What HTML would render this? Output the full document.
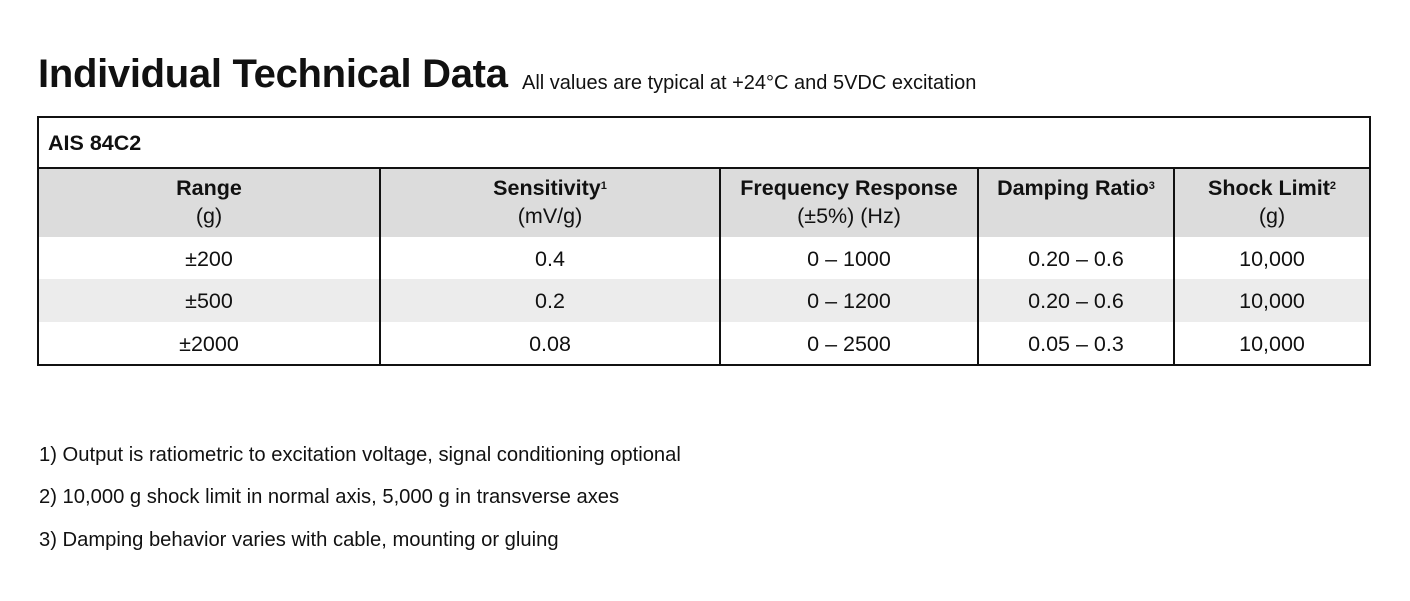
<!DOCTYPE html>
<html><head><meta charset="utf-8"><style>
body{margin:0;width:1410px;height:601px;background:#fff;font-family:"Liberation Sans",Arial,sans-serif;color:#111;position:relative;overflow:hidden}
.a{position:absolute}
#title{left:38px;top:52px;font-size:40px;font-weight:bold;letter-spacing:-0.3px;white-space:nowrap}
#sub{left:522px;top:72px;font-size:20px;white-space:nowrap}
#tbl{left:37px;top:116px;width:1330px;height:246px;border:2px solid #111}
.row{position:absolute;left:0;width:1330px}
.c{position:absolute;text-align:center;font-size:21.5px;line-height:28px}
.vl{position:absolute;top:51px;height:195px;width:2px;background:#111}
sup{font-size:11px;vertical-align:top;position:relative;top:-2px}
.fn{left:39px;font-size:20.2px;white-space:nowrap}
</style></head><body>
<div class="a" id="title">Individual Technical Data</div>
<div class="a" id="sub">All values are typical at +24°C and 5VDC excitation</div>
<div class="a" id="tbl">
 <div class="row" style="top:0;height:49px;border-bottom:2px solid #111">
  <div class="a" style="left:9px;top:13px;font-size:21.5px;font-weight:bold">AIS 84C2</div>
 </div>
 <div class="row" style="top:51px;height:68px;background:#dcdcdc"></div>
 <div class="row" style="top:119px;height:42px;background:#fff"></div>
 <div class="row" style="top:161px;height:43px;background:#ececec"></div>
 <div class="row" style="top:204px;height:42px;background:#fff"></div>
 <div class="vl" style="left:340px"></div><div class="vl" style="left:680px"></div><div class="vl" style="left:938px"></div><div class="vl" style="left:1134px"></div>
 <div class="c" style="left:0;width:340px;top:56px"><b>Range</b><br>(g)</div>
 <div class="c" style="left:342px;width:338px;top:56px"><b>Sensitivity<sup>1</sup></b><br>(mV/g)</div>
 <div class="c" style="left:682px;width:256px;top:56px"><b>Frequency Response</b><br>(±5%) (Hz)</div>
 <div class="c" style="left:940px;width:194px;top:56px"><b>Damping Ratio<sup>3</sup></b></div>
 <div class="c" style="left:1136px;width:194px;top:56px"><b>Shock Limit<sup>2</sup></b><br>(g)</div>
 <div class="c" style="left:0;width:340px;top:127px">±200</div>
 <div class="c" style="left:342px;width:338px;top:127px">0.4</div>
 <div class="c" style="left:682px;width:256px;top:127px">0 – 1000</div>
 <div class="c" style="left:940px;width:194px;top:127px">0.20 – 0.6</div>
 <div class="c" style="left:1136px;width:194px;top:127px">10,000</div>
 <div class="c" style="left:0;width:340px;top:169px">±500</div>
 <div class="c" style="left:342px;width:338px;top:169px">0.2</div>
 <div class="c" style="left:682px;width:256px;top:169px">0 – 1200</div>
 <div class="c" style="left:940px;width:194px;top:169px">0.20 – 0.6</div>
 <div class="c" style="left:1136px;width:194px;top:169px">10,000</div>
 <div class="c" style="left:0;width:340px;top:212px">±2000</div>
 <div class="c" style="left:342px;width:338px;top:212px">0.08</div>
 <div class="c" style="left:682px;width:256px;top:212px">0 – 2500</div>
 <div class="c" style="left:940px;width:194px;top:212px">0.05 – 0.3</div>
 <div class="c" style="left:1136px;width:194px;top:212px">10,000</div>
</div>
<div class="a fn" style="top:444px">1) Output is ratiometric to excitation voltage, signal conditioning optional</div>
<div class="a fn" style="top:486px">2) 10,000 g shock limit in normal axis, 5,000 g in transverse axes</div>
<div class="a fn" style="top:529px">3) Damping behavior varies with cable, mounting or gluing</div>
</body></html>
